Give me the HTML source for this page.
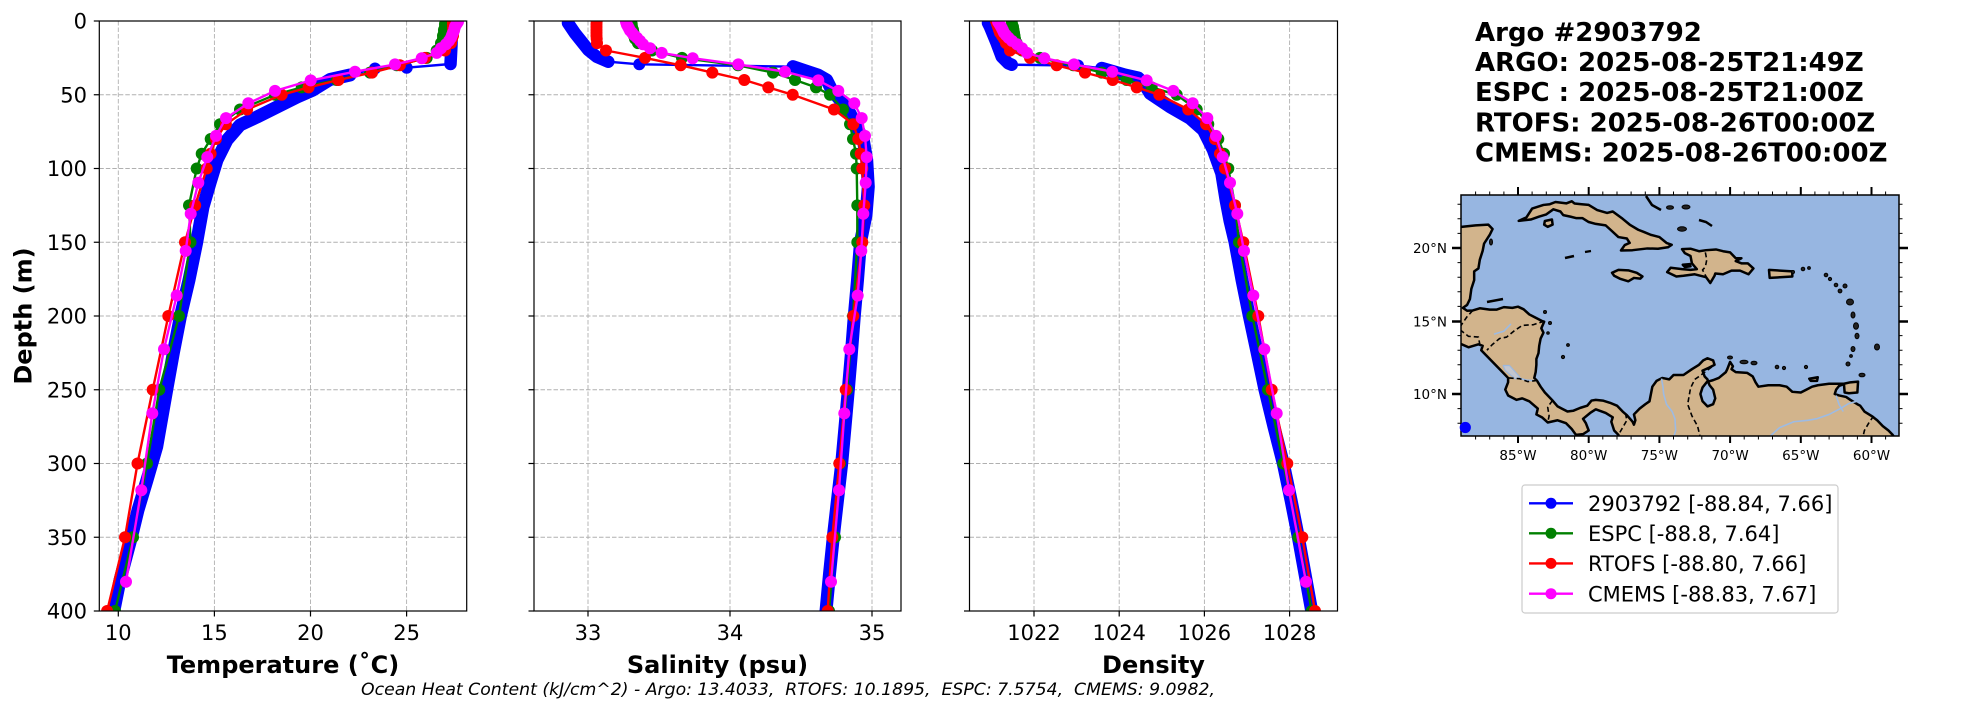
<!DOCTYPE html>
<html><head><meta charset="utf-8"><style>
html,body{margin:0;padding:0;background:#fff;}
svg{display:block;font-family:"DejaVu Sans","Liberation Sans",sans-serif;}
.geo path,.geo polyline,.geo polygon{vector-effect:non-scaling-stroke;}
.grid line{stroke:#b0b0b0;stroke-width:0.9;stroke-dasharray:4.5,2;}
.tk line{stroke:#000;stroke-width:1.2;}
.tl{font-size:21px;fill:#000;}
.lab{font-size:24px;font-weight:bold;fill:#000;}
.ttl{font-size:26px;font-weight:bold;fill:#000;}
.mp{font-size:13.5px;fill:#000;}
</style></head><body>
<svg width="1967" height="712" viewBox="0 0 1967 712" xmlns="http://www.w3.org/2000/svg">
<defs>
<marker id="mb" markerUnits="userSpaceOnUse" markerWidth="14" markerHeight="14" viewBox="-7 -7 14 14" refX="0" refY="0"><circle r="6" fill="#0000ff"/></marker>
<marker id="mg" markerUnits="userSpaceOnUse" markerWidth="14" markerHeight="14" viewBox="-7 -7 14 14" refX="0" refY="0"><circle r="6" fill="#008000"/></marker>
<marker id="mr" markerUnits="userSpaceOnUse" markerWidth="14" markerHeight="14" viewBox="-7 -7 14 14" refX="0" refY="0"><circle r="6" fill="#ff0000"/></marker>
<marker id="mm" markerUnits="userSpaceOnUse" markerWidth="14" markerHeight="14" viewBox="-7 -7 14 14" refX="0" refY="0"><circle r="6" fill="#ff00ff"/></marker>
<clipPath id="c1"><rect x="99.3" y="21" width="367.4" height="590"/></clipPath>
<clipPath id="c2"><rect x="534" y="21" width="367" height="590"/></clipPath>
<clipPath id="c3"><rect x="969.5" y="21" width="368" height="590"/></clipPath>
<clipPath id="cmap"><rect x="1461" y="195" width="438" height="241"/></clipPath>
</defs>
<rect x="0" y="0" width="1967" height="712" fill="#fff"/>

<!-- ===== Grids ===== -->
<g class="grid">
<line x1="118.3" y1="21" x2="118.3" y2="611"/><line x1="214.4" y1="21" x2="214.4" y2="611"/><line x1="310.5" y1="21" x2="310.5" y2="611"/><line x1="406.6" y1="21" x2="406.6" y2="611"/>
<line x1="99.3" y1="94.75" x2="466.7" y2="94.75"/><line x1="99.3" y1="168.5" x2="466.7" y2="168.5"/><line x1="99.3" y1="242.25" x2="466.7" y2="242.25"/><line x1="99.3" y1="316" x2="466.7" y2="316"/><line x1="99.3" y1="389.75" x2="466.7" y2="389.75"/><line x1="99.3" y1="463.5" x2="466.7" y2="463.5"/><line x1="99.3" y1="537.25" x2="466.7" y2="537.25"/>
<line x1="588" y1="21" x2="588" y2="611"/><line x1="730" y1="21" x2="730" y2="611"/><line x1="872" y1="21" x2="872" y2="611"/>
<line x1="534" y1="94.75" x2="901" y2="94.75"/><line x1="534" y1="168.5" x2="901" y2="168.5"/><line x1="534" y1="242.25" x2="901" y2="242.25"/><line x1="534" y1="316" x2="901" y2="316"/><line x1="534" y1="389.75" x2="901" y2="389.75"/><line x1="534" y1="463.5" x2="901" y2="463.5"/><line x1="534" y1="537.25" x2="901" y2="537.25"/>
<line x1="1034" y1="21" x2="1034" y2="611"/><line x1="1119.2" y1="21" x2="1119.2" y2="611"/><line x1="1204.4" y1="21" x2="1204.4" y2="611"/><line x1="1289.6" y1="21" x2="1289.6" y2="611"/>
<line x1="969.5" y1="94.75" x2="1337.5" y2="94.75"/><line x1="969.5" y1="168.5" x2="1337.5" y2="168.5"/><line x1="969.5" y1="242.25" x2="1337.5" y2="242.25"/><line x1="969.5" y1="316" x2="1337.5" y2="316"/><line x1="969.5" y1="389.75" x2="1337.5" y2="389.75"/><line x1="969.5" y1="463.5" x2="1337.5" y2="463.5"/><line x1="969.5" y1="537.25" x2="1337.5" y2="537.25"/>
</g>

<!-- ===== Temperature ===== -->
<g clip-path="url(#c1)" fill="none" stroke-linejoin="round" stroke-linecap="round">
<polyline points="452,22 451.5,45 450.5,64" stroke="#0000ff" stroke-width="12.5"/>
<polyline points="450.5,64 406.7,67.7 375,68.5 350,75" stroke="#0000ff" stroke-width="2.4" marker-start="url(#mb)" marker-mid="url(#mb)" marker-end="url(#mb)"/>
<polyline points="350,75 330,79.5 313,90 297,97 277,107 257,117 240,125 227,140 217,160 210,183 203,207 198.5,232 196.7,242.3 189,280 180.5,316 173.5,352 166.7,389.8 156.7,446.7 147,480 138,510 131.7,536 120,580 113.8,611" stroke="#0000ff" stroke-width="13"/>
<polyline points="446,21 445,24 445,26.9 444,29.9 444,32.8 443,35.8 443,38.7 441,43.1 436.7,50.5 426.7,57.9 396.7,65.3 370,72.6 336.7,80 301.7,87.4 275,94.8 240,109.5 220,124.3 210.7,139 201.7,153.8 196.7,168.5 189,205.4 190.5,242.3 179,316 159.3,389.8 147,463.5 133,537.3 115,611" stroke="#008000" stroke-width="2.4" marker-start="url(#mg)" marker-mid="url(#mg)" marker-end="url(#mg)"/>
<polyline points="453,21 453,24 453,26.9 453,29.9 453,32.8 453,35.8 452,38.7 451,43.1 445,50.5 424.9,57.9 399.9,65.3 372,72.6 338.4,80 308.6,87.4 281.7,94.8 247.1,109.5 225.9,124.3 215.9,139 210.6,153.8 206.7,168.5 195.2,205.4 185,242.3 168.3,316 152.7,389.8 137.5,463.5 125,537.3 107.1,611" stroke="#ff0000" stroke-width="2.4" marker-start="url(#mr)" marker-mid="url(#mr)" marker-end="url(#mr)"/>
<polyline points="458,21.7 457,23.3 456,24.9 455,26.6 454.5,28.5 454,30.5 453,32.7 452,35.1 451,37.8 449,40.9 446,44.3 441,48.3 436.7,52.9 421.7,58.2 395,64.4 355,71.7 310.7,80.4 275,90.9 248.3,103.3 226,118.1 216,135.9 207.3,157.1 198.3,182.8 190.7,213.8 185.7,250.9 176.7,295.5 164,349.2 152.3,413.4 141.3,490.2 126,581.8" stroke="#ff00ff" stroke-width="2.4" marker-start="url(#mm)" marker-mid="url(#mm)" marker-end="url(#mm)"/>
</g>

<!-- ===== Salinity ===== -->
<g clip-path="url(#c2)" fill="none" stroke-linejoin="round" stroke-linecap="round">
<polyline points="568,23 575,33.3 581.7,41.7 588.3,50 596.7,56.7 608.3,61.7" stroke="#0000ff" stroke-width="12.5"/>
<polyline points="608.3,61.7 639.3,64.3 793,66.7" stroke="#0000ff" stroke-width="2.4" marker-start="url(#mb)" marker-mid="url(#mb)" marker-end="url(#mb)"/>
<polyline points="793,66.7 803,70 818,75 826.7,80 831.7,90 840,100 850,113.3 856.7,126.7 863.3,140 866.7,160 868.3,186.7 866,215 860.5,242 857.5,280 854.3,316 851.5,352 848.3,390 845,427 841.7,463.5 837.5,500 833.3,537 829.5,574 826,611" stroke="#0000ff" stroke-width="13"/>
<polyline points="631,21 631.7,24 632,26.9 633,29.9 633.5,32.8 634,35.8 635,38.7 638,43.1 652,50.5 682,57.9 738,65.3 773,72.6 795,80 816,87.4 830,94.8 843,109.5 850,124.3 853,139 856,153.8 856.7,168.5 857.3,205.4 857.3,242.3 853,316 847,389.8 840,463.5 835,537.3 829,611" stroke="#008000" stroke-width="2.4" marker-start="url(#mg)" marker-mid="url(#mg)" marker-end="url(#mg)"/>
<polyline points="596.7,21 596.5,24 596.5,26.9 596.5,29.9 596.5,32.8 596.5,35.8 596.7,38.7 597,43.1 606,50.5 645,57.9 680.7,65.3 712.3,72.6 744.3,80 768.3,87.4 792.7,94.8 834,109.5 853.3,124.3 858.3,139 860.7,153.8 862.3,168.5 864.3,205.4 862.3,242.3 853.3,316 845.7,389.8 839.3,463.5 832.3,537.3 827.7,611" stroke="#ff0000" stroke-width="2.4" marker-start="url(#mr)" marker-mid="url(#mr)" marker-end="url(#mr)"/>
<polyline points="626,21.7 626.5,23.3 627,24.9 628,26.6 629,28.5 630,30.5 632,32.7 634,35.1 637,37.8 640,40.9 643,44.3 650,48.3 661.7,52.9 692.7,58.2 738.3,64.4 785,71.7 818.3,80.4 838.3,90.9 854.3,103.3 861.7,118.1 865,135.9 866.7,157.1 865.7,182.8 863.3,213.8 861.3,250.9 857.7,295.5 849.3,349.2 844.3,413.4 839,490.2 831,581.8" stroke="#ff00ff" stroke-width="2.4" marker-start="url(#mm)" marker-mid="url(#mm)" marker-end="url(#mm)"/>
</g>

<!-- ===== Density ===== -->
<g clip-path="url(#c3)" fill="none" stroke-linejoin="round" stroke-linecap="round">
<polyline points="988,23 990,27 996.7,43.3 1001.7,56.7 1008.3,63.3 1011.7,64.7" stroke="#0000ff" stroke-width="12.5"/>
<polyline points="1011.7,64.7 1078,65.5 1101.7,68.3" stroke="#0000ff" stroke-width="2.4" marker-start="url(#mb)" marker-mid="url(#mb)" marker-end="url(#mb)"/>
<polyline points="1101.7,68.3 1125,75 1138.3,78 1145,85 1150,93.3 1170,106.7 1190,118.3 1203.3,130 1213.3,150 1221.7,173.3 1226,200 1230,221 1235,242 1242,280 1249.3,316 1257,352 1265,390 1274,427 1283.3,463.5 1291,500 1298.3,537 1305,574 1311.7,611" stroke="#0000ff" stroke-width="13"/>
<polyline points="1011.7,21 1012,24 1013,26.9 1013.5,29.9 1014,32.8 1014.5,35.8 1015,38.7 1016.7,43.1 1022,50.5 1040,57.9 1073.3,65.3 1101.7,72.6 1126.7,80 1151.7,87.4 1176.7,94.8 1196.7,109.5 1208.3,124.3 1218.3,139 1224,153.8 1228.3,168.5 1235,205.4 1239,242.3 1252.3,316 1268,389.8 1283.3,463.5 1298.3,537.3 1311.7,611" stroke="#008000" stroke-width="2.4" marker-start="url(#mg)" marker-mid="url(#mg)" marker-end="url(#mg)"/>
<polyline points="996,21 997,24 998,26.9 999,29.9 1000,32.8 1002,35.8 1004,38.7 1006,43.1 1010,50.5 1030,57.9 1056.7,65.3 1085,72.6 1112.7,80 1136.7,87.4 1159.3,94.8 1188.3,109.5 1206,124.3 1215,139 1220,153.8 1225,168.5 1235,205.4 1243.3,242.3 1258.3,316 1271.7,389.8 1287.3,463.5 1302.3,537.3 1315,611" stroke="#ff0000" stroke-width="2.4" marker-start="url(#mr)" marker-mid="url(#mr)" marker-end="url(#mr)"/>
<polyline points="998,21.7 999,23.3 1000,24.9 1001,26.6 1002,28.5 1003,30.5 1004,32.7 1006,35.1 1008.5,37.8 1012,40.9 1017,44.3 1022,48.3 1027,52.9 1044.3,58.2 1074,64.4 1112.3,71.7 1146.7,80.4 1173.3,90.9 1192.7,103.3 1207.3,118.1 1216,135.9 1222.7,157.1 1230,182.8 1237.3,213.8 1244,250.9 1253.3,295.5 1264.3,349.2 1276.7,413.4 1289,490.2 1306,581.8" stroke="#ff00ff" stroke-width="2.4" marker-start="url(#mm)" marker-mid="url(#mm)" marker-end="url(#mm)"/>
</g>

<!-- ===== Spines ===== -->
<g fill="none" stroke="#000" stroke-width="1.2">
<rect x="99.3" y="21" width="367.4" height="590"/>
<rect x="534" y="21" width="367" height="590"/>
<rect x="969.5" y="21" width="368" height="590"/>
</g>

<!-- ===== Ticks ===== -->
<g class="tk">
<line x1="93.8" y1="21" x2="99.3" y2="21"/><line x1="93.8" y1="94.75" x2="99.3" y2="94.75"/><line x1="93.8" y1="168.5" x2="99.3" y2="168.5"/><line x1="93.8" y1="242.25" x2="99.3" y2="242.25"/><line x1="93.8" y1="316" x2="99.3" y2="316"/><line x1="93.8" y1="389.75" x2="99.3" y2="389.75"/><line x1="93.8" y1="463.5" x2="99.3" y2="463.5"/><line x1="93.8" y1="537.25" x2="99.3" y2="537.25"/><line x1="93.8" y1="611" x2="99.3" y2="611"/>
<line x1="528.5" y1="21" x2="534" y2="21"/><line x1="528.5" y1="94.75" x2="534" y2="94.75"/><line x1="528.5" y1="168.5" x2="534" y2="168.5"/><line x1="528.5" y1="242.25" x2="534" y2="242.25"/><line x1="528.5" y1="316" x2="534" y2="316"/><line x1="528.5" y1="389.75" x2="534" y2="389.75"/><line x1="528.5" y1="463.5" x2="534" y2="463.5"/><line x1="528.5" y1="537.25" x2="534" y2="537.25"/><line x1="528.5" y1="611" x2="534" y2="611"/>
<line x1="964" y1="21" x2="969.5" y2="21"/><line x1="964" y1="94.75" x2="969.5" y2="94.75"/><line x1="964" y1="168.5" x2="969.5" y2="168.5"/><line x1="964" y1="242.25" x2="969.5" y2="242.25"/><line x1="964" y1="316" x2="969.5" y2="316"/><line x1="964" y1="389.75" x2="969.5" y2="389.75"/><line x1="964" y1="463.5" x2="969.5" y2="463.5"/><line x1="964" y1="537.25" x2="969.5" y2="537.25"/><line x1="964" y1="611" x2="969.5" y2="611"/>
<line x1="118.3" y1="611" x2="118.3" y2="616.5"/><line x1="214.4" y1="611" x2="214.4" y2="616.5"/><line x1="310.5" y1="611" x2="310.5" y2="616.5"/><line x1="406.6" y1="611" x2="406.6" y2="616.5"/>
<line x1="588" y1="611" x2="588" y2="616.5"/><line x1="730" y1="611" x2="730" y2="616.5"/><line x1="872" y1="611" x2="872" y2="616.5"/>
<line x1="1034" y1="611" x2="1034" y2="616.5"/><line x1="1119.2" y1="611" x2="1119.2" y2="616.5"/><line x1="1204.4" y1="611" x2="1204.4" y2="616.5"/><line x1="1289.6" y1="611" x2="1289.6" y2="616.5"/>
</g>

<!-- ===== Tick labels ===== -->
<g class="tl" text-anchor="end">
<text x="87" y="28.7">0</text><text x="87" y="102.4">50</text><text x="87" y="176.2">100</text><text x="87" y="250">150</text><text x="87" y="323.7">200</text><text x="87" y="397.4">250</text><text x="87" y="471.2">300</text><text x="87" y="545">350</text><text x="87" y="618.7">400</text>
</g>
<g class="tl" text-anchor="middle">
<text x="118.3" y="640">10</text><text x="214.4" y="640">15</text><text x="310.5" y="640">20</text><text x="406.6" y="640">25</text>
<text x="588" y="640">33</text><text x="730" y="640">34</text><text x="872" y="640">35</text>
<text x="1034" y="640">1022</text><text x="1119.2" y="640">1024</text><text x="1204.4" y="640">1026</text><text x="1289.6" y="640">1028</text>
</g>

<!-- ===== Axis labels ===== -->
<text class="lab" x="283" y="673" text-anchor="middle">Temperature (˚C)</text>
<text class="lab" x="717.5" y="673" text-anchor="middle">Salinity (psu)</text>
<text class="lab" x="1153.5" y="673" text-anchor="middle">Density</text>
<text class="lab" transform="translate(31.5,316) rotate(-90)" text-anchor="middle">Depth (m)</text>
<text x="788" y="695" text-anchor="middle" font-size="16.5" font-style="italic" textLength="854" lengthAdjust="spacingAndGlyphs" style="white-space:pre" xml:space="preserve">Ocean Heat Content (kJ/cm^2) - Argo: 13.4033,  RTOFS: 10.1895,  ESPC: 7.5754,  CMEMS: 9.0982,</text>

<!-- ===== Title ===== -->
<g class="ttl">
<text x="1475" y="41">Argo #2903792</text>
<text x="1475" y="71.1">ARGO: 2025-08-25T21:49Z</text>
<text x="1475" y="101.2">ESPC : 2025-08-25T21:00Z</text>
<text x="1475" y="131.3">RTOFS: 2025-08-26T00:00Z</text>
<text x="1475" y="161.4">CMEMS: 2025-08-26T00:00Z</text>
</g>

<!-- ===== Map ===== -->
<g clip-path="url(#cmap)">
<rect x="1461" y="195" width="438" height="241" fill="#97b6e1"/>
<g class="geo" transform="matrix(14.14,0,0,-14.6,2719.9,540)" fill="#d2b48c" stroke="#000" stroke-width="2.5" stroke-linejoin="round">
<path d="M-91,21.5 L-89,21.45 -88,21.55 -87.1,21.6 -86.8,21.3 -87,20.9 -87.4,20.3 -87.5,19.8 -87.7,19.2 -87.8,18.6 -88.1,18.4 -88.1,17.8 -88.3,17.2 -88.4,16.5 -88.6,16.1 -88.9,15.9 -88.6,15.7 -88.2,15.72 -87.7,15.87 -87,15.78 -86.5,15.78 -86,15.95 -85.4,15.9 -85,15.98 -84.6,15.8 -84.2,15.45 -83.8,15.25 -83.3,15 -83.15,14.95 -83.35,14.5 -83.2,14.2 -83.4,13.8 -83.5,13.3 -83.55,12.8 -83.7,12.4 -83.7,12 -83.75,11.5 -83.85,11.1 -83.65,10.9 -83.4,10.5 -83.1,10.1 -82.6,9.6 -82.2,9.15 -81.9,9 -81.5,8.8 -81.1,8.85 -80.6,9.05 -80.1,9.2 -79.8,9.55 -79.5,9.6 -79,9.55 -78.5,9.4 -78,9.2 -77.6,8.8 -77.3,8.55 -76.9,8.1 -76.8,7.9 -76.7,8.2 -76.8,8.6 -76.4,9 -76,9.3 -75.7,9.5 -75.6,10 -75.5,10.5 -75.2,10.9 -74.8,11.1 -74.3,11 -74,11.3 -73.3,11.3 -72.7,11.7 -72.2,12 -71.9,12.3 -71.6,12.45 -71.2,12.3 -71.1,12 -71.5,11.8 -71.95,11.6 -71.8,11.2 -71.6,11 -71.55,10.85 -71.2,10.95 -70.8,11.1 -70.3,11.5 -70.2,11.7 -70,12.2 -69.8,11.9 -69.9,11.7 -69.6,11.5 -68.8,11.45 -68.4,11.2 -68.2,10.8 -68,10.5 -67.3,10.6 -66.5,10.6 -66,10.5 -65.6,10.15 -65,10.1 -64.6,10.3 -64.2,10.5 -63.8,10.6 -63,10.7 -62.3,10.7 -61.9,10.7 -62.3,10.55 -62.5,10.3 -62.6,10 -62.3,9.9 -61.8,9.8 -61.5,9.6 -61,9.3 -60.8,9.2 -60.5,8.8 -60,8.5 -59.6,8.2 -59.2,7.8 -58.8,7.5 -58.5,7.2 -58.3,6.9 -57,6.5 -57,5 -77.5,5 -77.7,6.5 -77.9,7.2 -78.2,7.5 -78.4,8.1 -78.3,8.4 -78.8,8.7 -79.5,8.95 -79.9,8.7 -80.4,8.3 -80.2,8 -80,7.5 -80.4,7.25 -80.9,7.2 -81.2,7.6 -81.6,8 -82.2,8.2 -82.9,8.05 -83.3,8.4 -83.7,8.6 -83.6,9 -84.2,9.5 -84.7,9.7 -85.1,9.6 -85.7,9.9 -85.9,10.3 -85.7,10.8 -85.7,11.1 -86.3,11.7 -86.8,12.2 -87.3,12.7 -87.6,13 -87.5,13.3 -87.8,13.4 -88.5,13.2 -89.2,13.5 -91,13.8 Z"/>
<path d="M-84.95,21.86 L-84.4,22.1 -84,22.7 -83.2,22.95 -82.75,23 -82.35,23.15 -81.57,23.06 -81.2,23.2 -81,23.05 -80.5,23 -80,22.95 -79.4,22.6 -78.7,22.4 -78.3,22.5 -77.6,22 -77.1,21.6 -76.5,21.25 -76.1,21.1 -75.6,20.9 -75,20.75 -74.5,20.35 -74.13,20.22 -74.4,20.05 -75.1,19.95 -75.85,19.97 -76.9,19.85 -77.72,19.83 -77.45,20.2 -77.1,20.35 -77.3,20.65 -77.9,20.75 -78.4,21.2 -78.8,21.55 -79.5,21.65 -80,21.78 -80.45,22.05 -80.9,22.05 -81.3,22.15 -81.8,22.25 -82,22.5 -82.5,22.65 -83,22.3 -83.5,22.15 -84.1,21.95 Z"/>
<path d="M-83.1,21.85 L-82.6,21.95 -82.55,21.6 -82.9,21.45 -83.15,21.6 Z"/>
<path d="M-78.35,18.3 L-77.9,18.5 -77.2,18.47 -76.6,18.3 -76.2,18.05 -76.35,17.9 -76.8,17.95 -77.2,17.72 -77.8,17.9 -78.2,18.1 Z"/>
<path d="M-73.4,19.92 L-72.8,19.95 -72.2,19.78 -71.7,19.85 -71,19.9 -70.5,19.78 -70,19.7 -69.6,19.3 -69.2,19.3 -69.6,19.1 -69.2,18.95 -68.75,18.95 -68.35,18.6 -68.7,18.2 -69.3,18.45 -69.9,18.45 -70.5,18.2 -71.05,18.25 -71.1,18.1 -71.4,17.6 -71.7,18 -72.5,18.2 -73.3,18.1 -73.8,18.05 -74.45,18.35 -74.2,18.65 -73.4,18.55 -72.8,18.5 -72.35,18.55 -72.7,18.95 -72.8,19.45 -73.2,19.65 Z"/>
<path d="M-73.35,18.85 L-72.85,18.9 -72.8,18.75 -73.2,18.7 Z"/>
<path d="M-67.25,18.5 L-65.6,18.4 -65.6,18.05 -67.2,17.95 Z"/>
<path d="M-61.95,10.7 L-61.5,10.8 -60.95,10.85 -61,10.1 -61.6,10.05 -61.9,10.1 Z"/>
<path d="M-64.4,11.05 L-63.8,11.15 -63.85,10.9 -64.3,10.9 Z"/>
<path d="M-71.58,10.9 L-71.95,10.45 -72.1,10 -71.95,9.5 -71.6,9.15 -71.2,9.3 -71.05,9.7 -71.2,10.3 -71.45,10.6 Z" fill="#97b6e1"/>
<path d="M-86.05,11.95 L-85.6,11.95 -84.95,11.25 -84.8,11.05 -85.2,11.05 -85.9,11.6 Z" fill="#c3c6cf" stroke="#9db8dd" stroke-width="1.2"/>
<g fill="none" stroke="#9dbbe3" stroke-width="1.6">
<polyline points="-74.85,11.05 -74.75,10.5 -74.7,10 -74.5,9.3 -74.1,8.8 -73.9,8.3 -73.85,7.5 -74,7"/>
<polyline points="-67.3,7 -66.5,7.7 -65.5,8.1 -64.5,8.2 -63.9,8.3 -63,8.6 -62.2,9 -61.6,9.35 -61.05,9.5"/>
<polyline points="-62.5,9.9 -62.3,9.3 -62,8.8"/>
<polyline points="-84.8,11.05 -84.4,10.95 -83.7,10.9"/>
<polyline points="-86.7,14.1 -86,14.3 -85.5,14.8"/>
</g>
<g fill="none" stroke="#000" stroke-width="1.6" stroke-dasharray="5,3">
<polyline points="-83.15,14.99 -83.9,14.75 -84.7,14.7 -85.3,14.3 -85.8,13.9 -86.3,13.8 -86.8,13.4 -87.2,13"/>
<polyline points="-88.2,15.72 -88.6,15.3 -89.1,14.6"/>
<polyline points="-89.1,14.4 -88.5,13.95 -87.8,13.9 -87.7,13.4"/>
<polyline points="-83.65,10.93 -84.3,10.85 -84.9,11.05 -85.7,11.1"/>
<polyline points="-82.56,9.56 -82.9,9.1 -82.8,8.5 -82.9,8.05"/>
<polyline points="-77.4,8.67 -77.3,8.2 -77.9,7.2"/>
<polyline points="-71.3,11.85 -72.2,11.2 -72.5,11 -72.8,10.4 -73,9.3 -72.7,8.5 -72.3,7.8 -72.1,7"/>
<polyline points="-59.85,8.5 -60.2,8 -60.5,7.5 -60.6,7.1"/>
<polyline points="-71.75,19.7 -71.65,19.2 -71.75,18.7 -71.95,18.5 -71.7,18.05"/>
</g>
</g>
<!-- small islands (pixel space) -->
<g fill="#222" stroke="#000" stroke-width="1">
<path d="M1646,196 L1652,205 L1661,210" fill="none" stroke-width="2.5"/>
<ellipse cx="1670" cy="207.5" rx="3.5" ry="1.8"/>
<ellipse cx="1686" cy="207" rx="4" ry="2"/>
<ellipse cx="1682" cy="229" rx="4.5" ry="2.2"/>
<path d="M1699,220 L1706,222 L1712,226" fill="none" stroke-width="2.5"/>
<ellipse cx="1491" cy="242" rx="1.5" ry="3"/>
<path d="M1487,302 L1503,299" fill="none" stroke-width="2.5"/>
<circle cx="1545" cy="312" r="1.5"/><circle cx="1550" cy="323" r="1.5"/><circle cx="1548" cy="333" r="1.3"/>
<circle cx="1563" cy="357" r="1.6"/><circle cx="1568" cy="345" r="1.4"/>
<path d="M1565,258 L1574,256" fill="none" stroke-width="2.5"/>
<path d="M1585,252 L1591,251" fill="none" stroke-width="2.2"/>
<circle cx="1793" cy="272" r="1.5"/><circle cx="1803" cy="269" r="1.8"/><circle cx="1809" cy="268" r="1.4"/>
<circle cx="1826" cy="275" r="1.8"/><circle cx="1830" cy="279" r="1.6"/><circle cx="1836" cy="285" r="1.8"/><circle cx="1840" cy="291" r="1.9"/><circle cx="1845" cy="286" r="2"/>
<ellipse cx="1850" cy="302" rx="3.5" ry="3"/><ellipse cx="1853" cy="315" rx="2" ry="3"/><ellipse cx="1856" cy="326" rx="2.5" ry="3.2"/><ellipse cx="1857" cy="336" rx="2" ry="2.8"/><ellipse cx="1853" cy="349" rx="2" ry="2.5"/><circle cx="1851" cy="356" r="1.4"/><circle cx="1848" cy="364" r="2"/>
<ellipse cx="1877" cy="347" rx="2.5" ry="3"/><ellipse cx="1862" cy="375" rx="3" ry="1.8"/>
<ellipse cx="1730" cy="357.5" rx="2.5" ry="1.5"/><ellipse cx="1744" cy="362" rx="4" ry="1.8"/><ellipse cx="1754" cy="363" rx="3" ry="1.8"/>
<circle cx="1777" cy="367" r="1.8"/><circle cx="1784" cy="368" r="1.6"/><circle cx="1806" cy="367" r="1.6"/>
</g>
</g>
<!-- map frame & ticks -->
<rect x="1461" y="195" width="438" height="241" fill="none" stroke="#000" stroke-width="1.5"/>
<g stroke="#000" stroke-width="1">
<path d="M1475.6,195v-3.5M1489.7,195v-3.5M1503.9,195v-3.5M1532.1,195v-3.5M1546.3,195v-3.5M1560.4,195v-3.5M1574.6,195v-3.5M1602.8,195v-3.5M1617,195v-3.5M1631.1,195v-3.5M1645.3,195v-3.5M1673.5,195v-3.5M1687.7,195v-3.5M1701.8,195v-3.5M1716,195v-3.5M1744.2,195v-3.5M1758.4,195v-3.5M1772.5,195v-3.5M1786.7,195v-3.5M1814.9,195v-3.5M1829.1,195v-3.5M1843.2,195v-3.5M1857.4,195v-3.5M1885.6,195v-3.5"/>
<path d="M1475.6,436v3.5M1489.7,436v3.5M1503.9,436v3.5M1532.1,436v3.5M1546.3,436v3.5M1560.4,436v3.5M1574.6,436v3.5M1602.8,436v3.5M1617,436v3.5M1631.1,436v3.5M1645.3,436v3.5M1673.5,436v3.5M1687.7,436v3.5M1701.8,436v3.5M1716,436v3.5M1744.2,436v3.5M1758.4,436v3.5M1772.5,436v3.5M1786.7,436v3.5M1814.9,436v3.5M1829.1,436v3.5M1843.2,436v3.5M1857.4,436v3.5M1885.6,436v3.5"/>
<path d="M1461,423.2h-3.5M1461,408.6h-3.5M1461,379.4h-3.5M1461,364.8h-3.5M1461,350.2h-3.5M1461,335.6h-3.5M1461,306.4h-3.5M1461,291.8h-3.5M1461,277.2h-3.5M1461,262.6h-3.5M1461,233.4h-3.5M1461,218.8h-3.5M1461,204.2h-3.5"/>
<path d="M1899,423.2h3.5M1899,408.6h3.5M1899,379.4h3.5M1899,364.8h3.5M1899,350.2h3.5M1899,335.6h3.5M1899,306.4h3.5M1899,291.8h3.5M1899,277.2h3.5M1899,262.6h3.5M1899,233.4h3.5M1899,218.8h3.5M1899,204.2h3.5"/>
</g>
<g stroke="#000" stroke-width="2">
<path d="M1518,195v-8M1588.7,195v-8M1659.4,195v-8M1730.1,195v-8M1800.8,195v-8M1871.5,195v-8"/>
<path d="M1518,436v7M1588.7,436v7M1659.4,436v7M1730.1,436v7M1800.8,436v7M1871.5,436v7"/>
</g>
<g stroke="#000" stroke-width="2.6">
<path d="M1461,248h-9M1461,321.5h-9M1461,394h-9"/>
<path d="M1899,248h9M1899,321.5h9M1899,394h9"/>
</g>
<g class="mp" text-anchor="end">
<text x="1447" y="253">20°N</text><text x="1447" y="326.5">15°N</text><text x="1447" y="399">10°N</text>
</g>
<g class="mp" text-anchor="middle">
<text x="1518" y="460">85°W</text><text x="1588.7" y="460">80°W</text><text x="1659.4" y="460">75°W</text><text x="1730.1" y="460">70°W</text><text x="1800.8" y="460">65°W</text><text x="1871.5" y="460">60°W</text>
</g>
<circle cx="1465.3" cy="427.5" r="5.6" fill="#0000ff"/>

<!-- ===== Legend ===== -->
<rect x="1522" y="485" width="316" height="128" rx="3" ry="3" fill="#fff" stroke="#cccccc" stroke-width="1.2"/>
<g stroke-width="2.4">
<line x1="1529" y1="503.3" x2="1573" y2="503.3" stroke="#0000ff"/><circle cx="1551" cy="503.3" r="5.5" fill="#0000ff" stroke="none"/>
<line x1="1529" y1="533.3" x2="1573" y2="533.3" stroke="#008000"/><circle cx="1551" cy="533.3" r="5.5" fill="#008000" stroke="none"/>
<line x1="1529" y1="563.4" x2="1573" y2="563.4" stroke="#ff0000"/><circle cx="1551" cy="563.4" r="5.5" fill="#ff0000" stroke="none"/>
<line x1="1529" y1="593.7" x2="1573" y2="593.7" stroke="#ff00ff"/><circle cx="1551" cy="593.7" r="5.5" fill="#ff00ff" stroke="none"/>
</g>
<g class="tl">
<text x="1588" y="511">2903792 [-88.84, 7.66]</text>
<text x="1588" y="541">ESPC [-88.8, 7.64]</text>
<text x="1588" y="571.1">RTOFS [-88.80, 7.66]</text>
<text x="1588" y="601.4">CMEMS [-88.83, 7.67]</text>
</g>
</svg>
</body></html>
